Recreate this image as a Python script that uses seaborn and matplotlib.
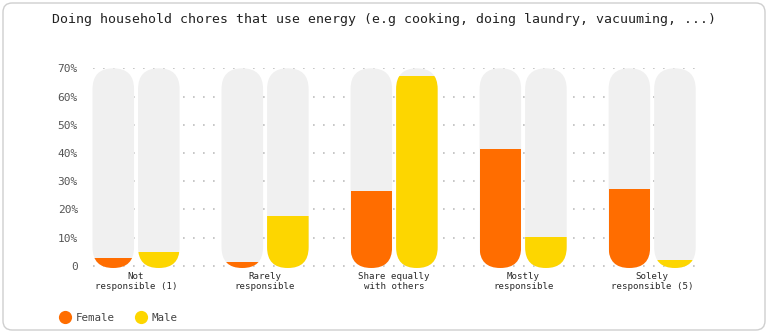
import numpy as np
import pandas as pd
import matplotlib
matplotlib.use("Agg")
import matplotlib.pyplot as plt
import seaborn as sns
from matplotlib.patches import FancyBboxPatch
from matplotlib.lines import Line2D

# ---- data ----
categories = ["Not\nresponsible (1)", "Rarely\nresponsible", "Share equally\nwith others",
              "Mostly\nresponsible", "Solely\nresponsible (5)"]
female = [2.8, 1.4, 26.5, 41.4, 27.2]
male = [4.8, 17.6, 67.3, 10.3, 2.0]
series = ["Female", "Male"]
y_ticks = [0, 10, 20, 30, 40, 50, 60, 70]
y_tick_labels = ["0", "10%", "20%", "30%", "40%", "50%", "60%", "70%"]
title = "Doing household chores that use energy (e.g cooking, doing laundry, vacuuming, ...)"

ORANGE = "#FF6D00"
YELLOW = "#FDD600"
TRACK = "#F0F0F0"
YMAX = 70
YMIN = -0.8

df = pd.DataFrame({
    "category": categories * 2,
    "gender": ["Female"] * len(categories) + ["Male"] * len(categories),
    "value": female + male,
})
df_bg = df.copy()
df_bg["value"] = YMAX

sns.set_theme(style="white")
plt.rcParams["font.family"] = ["DejaVu Sans Mono", "DejaVu Sans"]

W, H = 768, 333
fig = plt.figure(figsize=(W / 100, H / 100), dpi=100)
ax_left, ax_right = 92.5, 695.7
ax_top, ax_bot = 68.3, 268.0
ax = fig.add_axes([ax_left / W, (H - ax_bot) / H, (ax_right - ax_left) / W, (ax_bot - ax_top) / H])

# card border
fig.patches.append(FancyBboxPatch((3 / W, 3 / H), (W - 6) / W, (H - 6) / H,
                                  boxstyle="round,pad=0,rounding_size=0.012",
                                  mutation_aspect=W / H,
                                  transform=fig.transFigure, facecolor="white",
                                  edgecolor="#CFCFCF", linewidth=1.0, zorder=-10))
fig.patch.set_facecolor("white")
ax.set_facecolor("none")

# background tracks
sns.barplot(data=df_bg, x="category", y="value", hue="gender", palette=[TRACK, TRACK],
            width=0.706, gap=0.088, ax=ax, legend=False, saturation=1, zorder=2)
n_bg = len(ax.patches)
# value bars
sns.barplot(data=df, x="category", y="value", hue="gender", palette=[ORANGE, YELLOW],
            width=0.706, gap=0.088, ax=ax, legend=False, saturation=1, zorder=3)

ax.set_xlim(-0.3375, 4.3375)
ax.set_ylim(YMIN, YMAX)

# compute aspect for rounded shapes
fig.canvas.draw()
p0 = ax.transData.transform((0, 0))
p1 = ax.transData.transform((1, 1))
asp = (p1[0] - p0[0]) / (p1[1] - p0[1])

bg_rects = list(ax.patches[:n_bg])
fg_rects = list(ax.patches[n_bg:])
pills = []
for r in bg_rects:
    x, w = r.get_x(), r.get_width()
    r.set_visible(False)
    pill = FancyBboxPatch((x, YMIN), w, YMAX - YMIN,
                          boxstyle=f"round,pad=0,rounding_size={w / 2}",
                          mutation_aspect=asp, facecolor=TRACK, edgecolor="none",
                          zorder=2, clip_on=False)
    ax.add_patch(pill)
    pills.append((x, pill))

for r in fg_rects:
    x = r.get_x()
    h = r.get_height()
    r.set_y(YMIN)
    r.set_height(h - YMIN)
    r.set_linewidth(0)
    pill = min(pills, key=lambda p: abs(p[0] - x))[1]
    r.set_clip_path(pill)

# grid
for yv in y_ticks:
    ax.axhline(yv, color="#BDBDBD", linewidth=1.2, linestyle=(0, (1.0, 5.0)), zorder=1)

ax.set_yticks(y_ticks)
ax.set_yticklabels(y_tick_labels)
ax.tick_params(axis="y", length=0, pad=10.5, labelsize=8, labelcolor="#555555")
ax.tick_params(axis="x", length=0, pad=3, labelsize=6.6, labelcolor="#2A2A2A")
for lab in ax.get_xticklabels():
    lab.set_linespacing(1.15)
ax.set_xlabel("")
ax.set_ylabel("")
for s in ax.spines.values():
    s.set_visible(False)

fig.text(0.5, 1 - 20 / H, title, ha="center", va="center", fontsize=9.5, color="#222222")

handles = [Line2D([], [], marker="o", linestyle="", markersize=9.5, color=c, markeredgewidth=0)
           for c in [ORANGE, YELLOW]]
fig.legend(handles, series, loc="center left", bbox_to_anchor=(60 / W, 1 - 318 / H),
           frameon=False, fontsize=7.8, handletextpad=0.45, columnspacing=1.9, ncol=2,
           labelcolor="#444444", handlelength=1.0, borderaxespad=0, borderpad=0)

fig.savefig("out.png", dpi=100, facecolor="white")
